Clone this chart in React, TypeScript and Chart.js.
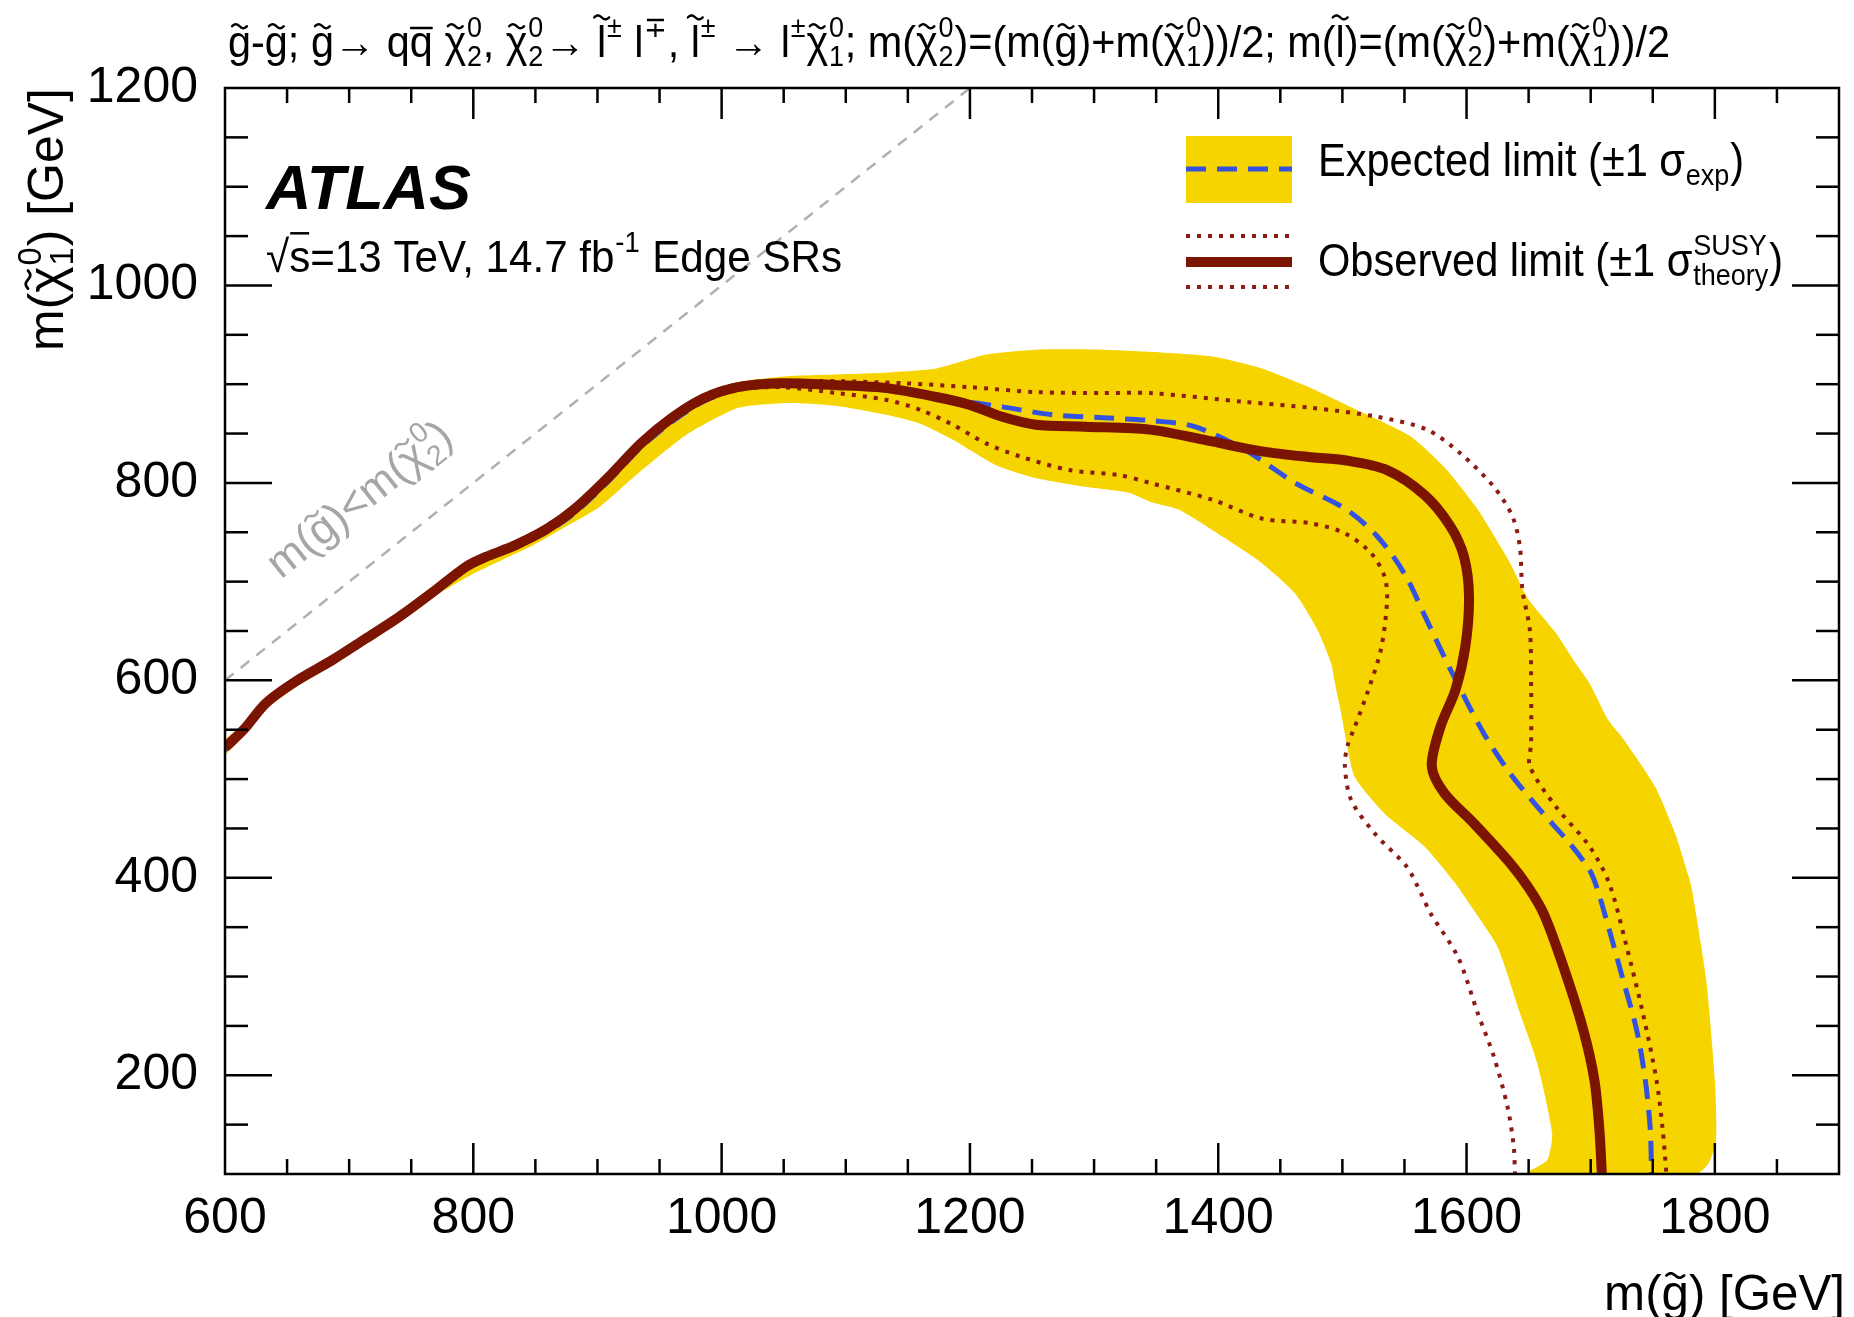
import React, { useEffect, useRef } from 'react';
import { Chart, registerables } from 'chart.js';

Chart.register(...registerables);

// ---------------- data ----------------
const X_MIN = 600;
const X_MAX = 1900;
const Y_MIN = 100;
const Y_MAX = 1200;

const xTickValues = [600, 650, 700, 750, 800, 850, 900, 950, 1000, 1050, 1100, 1150, 1200, 1250, 1300, 1350, 1400, 1450, 1500, 1550, 1600, 1650, 1700, 1750, 1800, 1850, 1900];
const yTickValues = [100, 150, 200, 250, 300, 350, 400, 450, 500, 550, 600, 650, 700, 750, 800, 850, 900, 950, 1000, 1050, 1100, 1150, 1200];
const xLabelValues = [600, 800, 1000, 1200, 1400, 1600, 1800];
const yLabelValues = [200, 400, 600, 800, 1000, 1200];

// observed limit (thick dark red)
const obsLimit: [number, number][] = [
  [600, 532], [615, 550], [633, 577], [657, 599], [687, 621], [713, 642], [740, 664], [767, 689], [794, 715],
  [810, 725], [834, 737], [860, 754], [882, 774], [909, 806], [935, 840], [960, 866], [986, 886], [1013, 897],
  [1047, 901], [1093, 899], [1133, 896], [1173, 887], [1200, 879], [1226, 867], [1253, 859], [1293, 857],
  [1345, 854], [1395, 842], [1435, 832], [1475, 826], [1502, 823], [1536, 813], [1566, 788], [1587, 756],
  [1598, 725], [1602, 685], [1599, 634], [1591, 590], [1579, 553], [1572, 513], [1582, 486], [1606, 455],
  [1635, 415], [1650, 390], [1662, 364], [1678, 310], [1694, 246], [1703, 195], [1707, 145], [1709, 100],
];

// expected limit (blue dashed)
const expLimit: [number, number][] = [
  [600, 530], [615, 548], [633, 575], [657, 597], [687, 619], [713, 640], [740, 662], [767, 687], [794, 713],
  [810, 723], [834, 735], [860, 751], [882, 770], [909, 802], [935, 836], [960, 862], [986, 883], [1013, 895],
  [1047, 899], [1093, 898], [1133, 895], [1173, 889], [1189, 884], [1226, 877], [1267, 869], [1307, 866],
  [1347, 863], [1381, 857], [1422, 833], [1462, 800], [1502, 774], [1528, 746], [1550, 708], [1568, 661],
  [1587, 611], [1614, 546], [1635, 506], [1659, 469], [1683, 435], [1699, 408], [1705, 390], [1715, 347],
  [1726, 297], [1737, 246], [1744, 195], [1748, 145], [1749, 100],
];

// observed +1 sigma theory (dotted, outer)
const obsUp: [number, number][] = [
  [600, 535], [615, 553], [633, 580], [657, 602], [687, 624], [713, 645], [740, 667], [767, 692], [794, 718],
  [810, 728], [834, 740], [860, 757], [882, 777], [909, 809], [935, 843], [960, 869], [986, 889], [1013, 900],
  [1047, 903], [1093, 903], [1146, 901], [1200, 897], [1253, 892], [1307, 891], [1345, 891], [1422, 882],
  [1475, 876], [1528, 867], [1568, 854], [1595, 830], [1622, 796], [1637, 766], [1643, 735], [1645, 692],
  [1651, 651], [1652, 600], [1652, 536], [1651, 513], [1672, 472], [1699, 432], [1715, 394], [1729, 330],
  [1742, 263], [1753, 195], [1758, 145], [1761, 100],
];

// observed -1 sigma theory (dotted, inner)
const obsDown: [number, number][] = [
  [600, 529], [615, 547], [633, 574], [657, 596], [687, 618], [713, 639], [740, 661], [767, 686], [794, 712],
  [810, 722], [834, 734], [860, 751], [882, 771], [909, 803], [935, 837], [960, 863], [986, 883], [1013, 894],
  [1047, 897], [1093, 891], [1133, 884], [1160, 874], [1186, 859], [1213, 840], [1240, 827], [1280, 813],
  [1320, 808], [1345, 800], [1395, 783], [1435, 764], [1475, 759], [1502, 749], [1523, 729], [1534, 705],
  [1536, 681], [1531, 631], [1520, 587], [1510, 553], [1504, 533], [1502, 513], [1507, 479], [1526, 445],
  [1552, 411], [1563, 385], [1571, 364], [1593, 320], [1609, 263], [1622, 219], [1633, 168], [1638, 128],
  [1639, 100],
];

// expected +-1 sigma band: outer edge (left -> right -> bottom)
const bandUpper: [number, number][] = [
  [600, 540], [615, 556], [633, 582], [657, 604], [687, 625], [713, 647], [740, 669], [767, 694], [794, 719],
  [810, 729], [834, 741], [860, 758], [882, 779], [909, 811], [935, 845], [960, 870], [986, 890], [1013, 902],
  [1053, 908], [1120, 911], [1173, 916], [1213, 930], [1253, 935], [1307, 935], [1341, 933], [1395, 928],
  [1435, 916], [1475, 896], [1515, 872], [1555, 847], [1582, 816], [1609, 773], [1635, 719], [1650, 682],
  [1672, 648], [1688, 617], [1699, 597], [1714, 560], [1726, 541], [1752, 492], [1768, 445], [1779, 401],
  [1782, 385], [1793, 297], [1800, 195], [1801, 134], [1795, 111], [1785, 100],
];

// expected +-1 sigma band: inner edge (left -> bottom)
const bandLower: [number, number][] = [
  [600, 524], [615, 544], [633, 571], [657, 593], [687, 616], [713, 638], [740, 660], [767, 684], [800, 708],
  [830, 726], [847, 736], [875, 756], [901, 775], [933, 810], [973, 850], [1013, 876], [1053, 881], [1093, 878],
  [1133, 869], [1160, 860], [1186, 844], [1221, 818], [1253, 805], [1293, 796], [1328, 790], [1345, 781],
  [1368, 773], [1408, 742], [1435, 719], [1462, 688], [1480, 651], [1491, 617], [1494, 597], [1499, 567],
  [1502, 546], [1510, 502], [1534, 465], [1566, 432], [1590, 396], [1600, 378], [1625, 330], [1643, 263],
  [1657, 212], [1669, 141], [1665, 114], [1648, 100],
];

// kinematic boundary m(g) = m(chi1)
const diagonal: [number, number][] = [[600, 600], [1200, 1200]];

// ---------------- styling ----------------
const FAM = '"Liberation Sans", Arial, Helvetica, sans-serif';
const YELLOW = '#f5d400';
const RED = '#7b1400';
const DOT_RED = '#8a1c14';
const BLUE = '#3452e2';
const GREY = '#b0b0b0';

type Seg = { t?: string; tl?: 'x' | 'a'; bar?: number; sub?: string; sup?: string };
type RichOpts = {
  size: number;
  color: string;
  align?: 'left' | 'right' | 'center';
  weight?: string;
  style?: string;
  width?: number;
  condense?: boolean;
};

const fnt = (o: RichOpts, size: number) => `${o.style || 'normal'} ${o.weight || 'normal'} ${size}px ${FAM}`;

function measureRich(ctx: CanvasRenderingContext2D, segs: Seg[], o: RichOpts, size: number) {
  let w = 0;
  for (const s of segs) {
    if (s.t !== undefined) {
      ctx.font = fnt(o, size);
      w += ctx.measureText(s.t).width;
    } else {
      ctx.font = fnt(o, size * 0.65);
      w += Math.max(s.sub ? ctx.measureText(s.sub).width : 0, s.sup ? ctx.measureText(s.sup).width : 0) + size * 0.04;
    }
  }
  return w;
}

function drawTilde(ctx: CanvasRenderingContext2D, cx: number, cy: number, size: number) {
  const w = size * 0.36;
  const a = size * 0.045;
  ctx.beginPath();
  for (let i = 0; i <= 20; i++) {
    const t = i / 20;
    const px = cx - w / 2 + w * t;
    const py = cy - a * Math.sin(2 * Math.PI * t);
    if (i === 0) ctx.moveTo(px, py);
    else ctx.lineTo(px, py);
  }
  ctx.lineWidth = Math.max(1.5, size * 0.055);
  ctx.lineCap = 'round';
  ctx.setLineDash([]);
  ctx.stroke();
}

function drawRich(ctx: CanvasRenderingContext2D, segs: Seg[], x: number, y: number, o: RichOpts) {
  let size = o.size;
  let sx = 1;
  if (o.width) {
    const m = measureRich(ctx, segs, o, size);
    if (o.condense) sx = o.width / m;
    else size = (size * o.width) / m;
  }
  const total = measureRich(ctx, segs, o, size) * sx;
  const startX = o.align === 'right' ? x - total : o.align === 'center' ? x - total / 2 : x;
  ctx.save();
  ctx.translate(startX, y);
  ctx.scale(sx, 1);
  let cx = 0;
  ctx.fillStyle = o.color;
  ctx.strokeStyle = o.color;
  ctx.textBaseline = 'alphabetic';
  ctx.textAlign = 'left';
  for (const s of segs) {
    if (s.t !== undefined) {
      ctx.font = fnt(o, size);
      const w = ctx.measureText(s.t).width;
      ctx.fillText(s.t, cx, 0);
      if (s.tl) drawTilde(ctx, cx + w / 2, -size * (s.tl === 'a' ? 0.9 : 0.7), size);
      if (s.bar) {
        ctx.beginPath();
        ctx.setLineDash([]);
        ctx.lineWidth = Math.max(1.5, size * 0.055);
        ctx.moveTo(cx + w * 0.05, -size * s.bar);
        ctx.lineTo(cx + w * 0.95, -size * s.bar);
        ctx.stroke();
      }
      cx += w;
    } else {
      ctx.font = fnt(o, size * 0.65);
      const w = Math.max(s.sub ? ctx.measureText(s.sub).width : 0, s.sup ? ctx.measureText(s.sup).width : 0);
      if (s.sup) ctx.fillText(s.sup, cx + size * 0.02, -size * 0.45);
      if (s.sub) ctx.fillText(s.sub, cx + size * 0.02, size * 0.2);
      cx += w + size * 0.04;
    }
  }
  ctx.restore();
}

const titleSegs: Seg[] = [
  { t: 'g', tl: 'x' }, { t: '-' }, { t: 'g', tl: 'x' }, { t: '; ' }, { t: 'g', tl: 'x' }, { t: '\u2192 q' },
  { t: 'q', bar: 0.66 }, { t: ' ' }, { t: '\u03c7', tl: 'x' }, { sub: '2', sup: '0' }, { t: ', ' },
  { t: '\u03c7', tl: 'x' }, { sub: '2', sup: '0' }, { t: '\u2192 ' }, { t: 'l', tl: 'a' }, { sup: '\u00b1' },
  { t: ' l' }, { sup: '\u2213' }, { t: ', ' }, { t: 'l', tl: 'a' }, { sup: '\u00b1' }, { t: ' \u2192 l' },
  { sup: '\u00b1' }, { t: '\u03c7', tl: 'x' }, { sub: '1', sup: '0' }, { t: '; m(' }, { t: '\u03c7', tl: 'x' },
  { sub: '2', sup: '0' }, { t: ')=(m(' }, { t: 'g', tl: 'x' }, { t: ')+m(' }, { t: '\u03c7', tl: 'x' },
  { sub: '1', sup: '0' }, { t: '))/2; m(' }, { t: 'l', tl: 'a' }, { t: ')=(m(' }, { t: '\u03c7', tl: 'x' },
  { sub: '2', sup: '0' }, { t: ')+m(' }, { t: '\u03c7', tl: 'x' }, { sub: '1', sup: '0' }, { t: '))/2' },
];
const yTitleSegs: Seg[] = [{ t: 'm(' }, { t: '\u03c7', tl: 'x' }, { sub: '1', sup: '0' }, { t: ') [GeV]' }];
const xTitleSegs: Seg[] = [{ t: 'm(' }, { t: 'g', tl: 'x' }, { t: ') [GeV]' }];
const diagSegs: Seg[] = [{ t: 'm(' }, { t: 'g', tl: 'x' }, { t: ')<m(' }, { t: '\u03c7', tl: 'x' }, { sub: '2', sup: '0' }, { t: ')' }];
const energySegs: Seg[] = [{ t: '\u221a' }, { t: 's', bar: 0.86 }, { t: '=13 TeV, 14.7 fb' }, { sup: '-1' }, { t: ' Edge SRs' }];
const expLegendSegs: Seg[] = [{ t: 'Expected limit (\u00b11 \u03c3' }, { sub: 'exp' }, { t: ')' }];
const obsLegendSegs: Seg[] = [{ t: 'Observed limit (\u00b11 \u03c3' }, { sub: 'theory', sup: 'SUSY' }, { t: ')' }];

const toXY = (arr: [number, number][]) => arr.map(([x, y]) => ({ x, y }));

const decorPlugin = {
  id: 'decor',
  afterDatasetsDraw(chart: any) {
    const { ctx, chartArea: ca, scales } = chart;
    const xs = scales.x;
    const ys = scales.y;
    ctx.save();
    ctx.strokeStyle = '#000';
    ctx.lineWidth = 2.5;
    ctx.setLineDash([]);
    ctx.lineCap = 'butt';
    const seg = (x1: number, y1: number, x2: number, y2: number) => {
      ctx.beginPath();
      ctx.moveTo(x1, y1);
      ctx.lineTo(x2, y2);
      ctx.stroke();
    };
    for (const t of xs.ticks) {
      const px = xs.getPixelForValue(t.value);
      if (px <= ca.left + 1 || px >= ca.right - 1) continue;
      const len = xLabelValues.includes(t.value) ? 31 : 15;
      seg(px, ca.bottom, px, ca.bottom - len);
      seg(px, ca.top, px, ca.top + len);
    }
    for (const t of ys.ticks) {
      const py = ys.getPixelForValue(t.value);
      if (py <= ca.top + 1 || py >= ca.bottom - 1) continue;
      const len = yLabelValues.includes(t.value) ? 47 : 23;
      seg(ca.left, py, ca.left + len, py);
      seg(ca.right, py, ca.right - len, py);
    }
    ctx.strokeRect(ca.left, ca.top, ca.right - ca.left, ca.bottom - ca.top);

    // label along the kinematic boundary
    const x0 = xs.getPixelForValue(diagonal[0][0]);
    const y0 = ys.getPixelForValue(diagonal[0][1]);
    const x1 = xs.getPixelForValue(diagonal[1][0]);
    const y1 = ys.getPixelForValue(diagonal[1][1]);
    const ang = Math.atan2(y1 - y0, x1 - x0);
    ctx.save();
    ctx.translate(xs.getPixelForValue(645), ys.getPixelForValue(702));
    ctx.rotate(ang);
    drawRich(ctx, diagSegs, 0, 0, { size: 44, color: '#a6a6a6' });
    ctx.restore();
    ctx.restore();
  },
  afterDraw(chart: any) {
    const { ctx, chartArea: ca } = chart;
    ctx.save();
    // title
    drawRich(ctx, titleSegs, 228, 57, { size: 44, color: '#000', width: 1442, condense: true });
    // ATLAS label
    drawRich(ctx, [{ t: 'ATLAS' }], 266, 209, { size: 62, color: '#000', weight: 'bold', style: 'italic', width: 205 });
    drawRich(ctx, energySegs, 266, 272, { size: 45, color: '#000', width: 576, condense: true });
    // axis titles
    ctx.save();
    ctx.translate(63, ca.top);
    ctx.rotate(-Math.PI / 2);
    drawRich(ctx, yTitleSegs, 0, 0, { size: 50, color: '#000', align: 'right' });
    ctx.restore();
    drawRich(ctx, xTitleSegs, 1845, 1310, { size: 50, color: '#000', align: 'right', width: 241 });

    // legend
    const lx0 = 1186;
    const lx1 = 1292;
    ctx.fillStyle = YELLOW;
    ctx.fillRect(lx0, 136, lx1 - lx0, 67);
    const hline = (y: number, color: string, w: number, dash: number[]) => {
      ctx.beginPath();
      ctx.strokeStyle = color;
      ctx.lineWidth = w;
      ctx.setLineDash(dash);
      ctx.lineCap = 'butt';
      ctx.moveTo(lx0, y);
      ctx.lineTo(lx1, y);
      ctx.stroke();
    };
    hline(169, BLUE, 5, [20, 11]);
    hline(236, DOT_RED, 4, [4, 7]);
    hline(262, RED, 10, []);
    hline(287, DOT_RED, 4, [4, 7]);
    ctx.setLineDash([]);
    drawRich(ctx, expLegendSegs, 1318, 176, { size: 46, color: '#000', width: 426, condense: true });
    drawRich(ctx, obsLegendSegs, 1318, 276, { size: 46, color: '#000', width: 465, condense: true });
    ctx.restore();
  },
};

export default function App() {
  const ref = useRef<HTMLCanvasElement>(null);
  useEffect(() => {
    const band = [...toXY(bandUpper), ...toXY(bandLower).reverse()];
    const lineDs = (label: string, arr: [number, number][], color: string, width: number, dash: number[], order: number) => ({
      label,
      data: toXY(arr),
      showLine: true,
      borderColor: color,
      borderWidth: width,
      borderDash: dash,
      pointRadius: 0,
      pointHoverRadius: 0,
      fill: false,
      tension: 0.3,
      order,
    });
    const chart = new Chart(ref.current as HTMLCanvasElement, {
      type: 'scatter',
      data: {
        datasets: [
          {
            label: 'Expected band',
            data: band,
            showLine: true,
            borderWidth: 0,
            borderColor: YELLOW,
            backgroundColor: YELLOW,
            fill: 'shape',
            pointRadius: 0,
            tension: 0.2,
            order: 10,
          } as any,
          { ...lineDs('Kinematic limit', diagonal, GREY, 2.5, [11, 9], 6), tension: 0 },
          lineDs('Observed +1 sigma', obsUp, DOT_RED, 4, [4, 7], 4),
          lineDs('Observed -1 sigma', obsDown, DOT_RED, 4, [4, 7], 4),
          lineDs('Expected limit', expLimit, BLUE, 5, [20, 11], 2),
          lineDs('Observed limit', obsLimit, RED, 10, [], 1),
        ],
      },
      options: {
        responsive: false,
        animation: false,
        events: [],
        layout: { padding: { top: 88, right: 7, left: 0, bottom: 0 } },
        plugins: { legend: { display: false }, tooltip: { enabled: false }, title: { display: false } },
        scales: {
          x: {
            type: 'linear',
            min: X_MIN,
            max: X_MAX,
            afterBuildTicks: (s: any) => {
              s.ticks = xTickValues.map((v) => ({ value: v }));
            },
            afterFit: (s: any) => {
              s.height = 143;
            },
            grid: { display: false, drawTicks: false },
            border: { display: false },
            ticks: {
              autoSkip: false,
              maxRotation: 0,
              minRotation: 0,
              padding: 15,
              color: '#000',
              font: { family: FAM, size: 50 },
              callback: (v: any) => (xLabelValues.includes(Number(v)) ? String(v) : ''),
            },
          },
          y: {
            type: 'linear',
            min: Y_MIN,
            max: Y_MAX,
            afterBuildTicks: (s: any) => {
              s.ticks = yTickValues.map((v) => ({ value: v }));
            },
            afterFit: (s: any) => {
              s.width = 225;
            },
            grid: { display: false, drawTicks: false },
            border: { display: false },
            ticks: {
              autoSkip: false,
              padding: 27,
              color: '#000',
              font: { family: FAM, size: 50 },
              callback: (v: any) => (yLabelValues.includes(Number(v)) ? String(v) : ''),
            },
          },
        },
      } as any,
      plugins: [decorPlugin],
    });
    return () => chart.destroy();
  }, []);
  return (
    <div style={{ position: 'absolute', left: 0, top: 0, width: 1854, height: 1317, background: '#fff' }}>
      <canvas ref={ref} width={1854} height={1317} style={{ display: 'block' }} />
    </div>
  );
}
